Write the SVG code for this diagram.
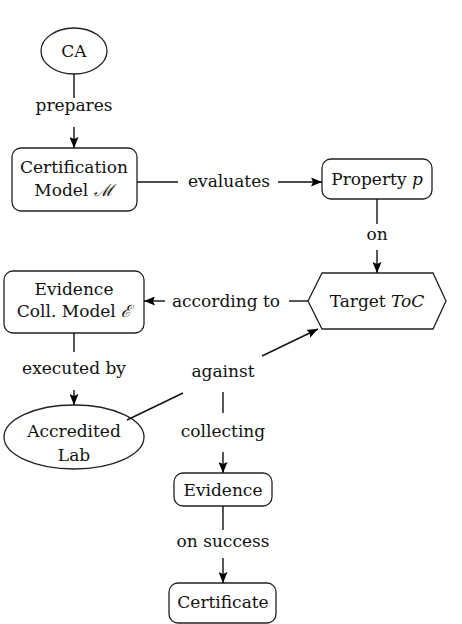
<svg xmlns="http://www.w3.org/2000/svg" width="462" height="624" viewBox="0 0 462 624">
<defs>
<marker id="arr" viewBox="0 0 11 9" refX="11" refY="4.5" markerWidth="11" markerHeight="9" markerUnits="userSpaceOnUse" orient="auto">
<path d="M0,0 L11,4.5 L0,9 L2,4.5 Z" fill="#000"/>
</marker>
</defs>
<style>
text{font-family:'DejaVu Serif',serif;font-size:17px;fill:#111;text-anchor:middle}
.m{font-style:italic}
.node{fill:#fff;stroke:#222;stroke-width:1.3}
.e{fill:none;stroke:#111;stroke-width:1.4}
</style>
<rect width="462" height="624" fill="#fff"/>
<g id="ca"><ellipse class="node" cx="74" cy="51" rx="33" ry="23"/><text x="74" y="57">CA</text></g>
<g id="certmodel"><rect class="node" x="12" y="148" width="125" height="63" rx="9"/><text x="74" y="173">Certification</text><text x="74" y="196">Model <tspan class="m">ℳ</tspan></text></g>
<g id="property"><rect class="node" x="322" y="159" width="110" height="40" rx="9"/><text x="377" y="185">Property <tspan class="m">p</tspan></text></g>
<g id="target"><polygon class="node" points="322,273 433,273 446,301 433,329 322,329 308,301"/><text x="377" y="307">Target <tspan class="m">ToC</tspan></text></g>
<g id="evmodel"><rect class="node" x="4" y="271" width="140" height="62" rx="9"/><text x="74" y="295">Evidence</text><text x="74" y="317">Coll. Model <tspan class="m">ℰ</tspan></text></g>
<g id="lab"><ellipse class="node" cx="74" cy="437" rx="70" ry="32"/><text x="74" y="437">Accredited</text><text x="74" y="461">Lab</text></g>
<g id="evidence"><rect class="node" x="174" y="473" width="98" height="33" rx="9"/><text x="223" y="496">Evidence</text></g>
<g id="certificate"><rect class="node" x="169" y="583" width="107" height="40" rx="9"/><text x="223" y="608">Certificate</text></g>
<g id="connectors">
<line class="e" x1="74" y1="74" x2="74" y2="98"/>
<line class="e" x1="74" y1="127" x2="74" y2="148" marker-end="url(#arr)"/>
<line class="e" x1="137" y1="182" x2="178" y2="182"/>
<line class="e" x1="278" y1="182" x2="322" y2="182" marker-end="url(#arr)"/>
<line class="e" x1="377" y1="199" x2="377" y2="224"/>
<line class="e" x1="377" y1="250" x2="377" y2="273" marker-end="url(#arr)"/>
<line class="e" x1="308" y1="301" x2="289" y2="301"/>
<line class="e" x1="165" y1="301" x2="144" y2="301" marker-end="url(#arr)"/>
<line class="e" x1="74" y1="333" x2="74" y2="352"/>
<line class="e" x1="74" y1="390" x2="74" y2="405" marker-end="url(#arr)"/>
<line class="e" x1="127" y1="420" x2="183" y2="393"/>
<line class="e" x1="262" y1="356" x2="318" y2="329" marker-end="url(#arr)"/>
<line class="e" x1="223" y1="392" x2="223" y2="413"/>
<line class="e" x1="223" y1="452" x2="223" y2="473" marker-end="url(#arr)"/>
<line class="e" x1="223" y1="506" x2="223" y2="530"/>
<line class="e" x1="223" y1="558" x2="223" y2="583" marker-end="url(#arr)"/>
<text x="74" y="111">prepares</text>
<text x="229" y="187">evaluates</text>
<text x="377" y="240">on</text>
<text x="226" y="307">according to</text>
<text x="74" y="374">executed by</text>
<text x="223" y="377">against</text>
<text x="223" y="437">collecting</text>
<text x="223" y="547">on success</text>
</g>
</svg>
